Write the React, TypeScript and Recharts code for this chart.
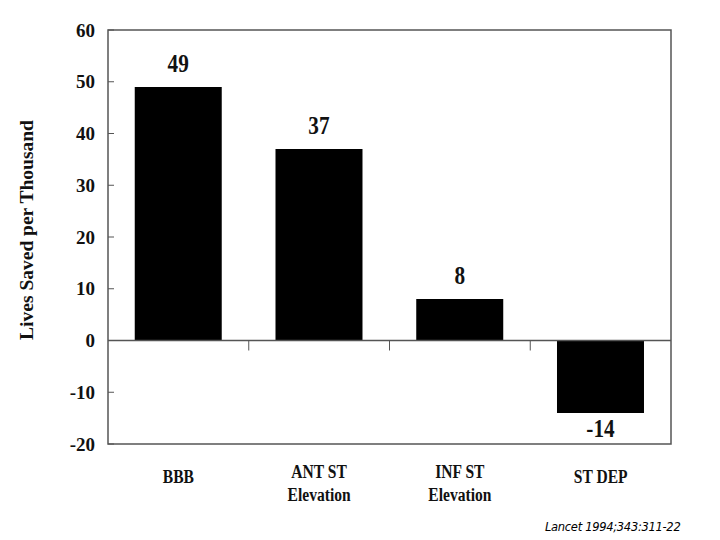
import { BarChart, Bar, XAxis, YAxis, ReferenceLine, ReferenceArea, LabelList } from 'recharts';

const categories = ['BBB', 'ANT ST\nElevation', 'INF ST\nElevation', 'ST DEP'];
const livesSaved = [49, 37, 8, -14];
const yTicks = [-20, -10, 0, 10, 20, 30, 40, 50, 60];

const data = categories.map((name, i) => ({ name, value: livesSaved[i] }));

const serif = '"Liberation Serif", "Times New Roman", serif';
const frameColor = '#555';

const CategoryTick = (props: any) => {
  const { x, y, payload } = props;
  const lines = String(payload.value).split('\n');
  const start = lines.length === 1 ? 31 : 26;
  return (
    <g>
      {lines.map((line, i) => (
        <text
          key={i}
          transform={`translate(${x},${y + start + i * 23}) scale(0.82,1)`}
          textAnchor="middle"
          fontFamily={serif}
          fontWeight="bold"
          fontSize={19}
          fill="#111"
        >
          {line}
        </text>
      ))}
    </g>
  );
};

const ValueLabel = (props: any) => {
  const { x, y, width, height, value } = props;
  const top = Math.min(y, y + height);
  const bottom = Math.max(y, y + height);
  const cx = x + width / 2;
  const ty = value >= 0 ? top - 15 : bottom + 24;
  return (
    <text
      transform={`translate(${cx},${ty}) scale(0.85,1)`}
      textAnchor="middle"
      fontFamily={serif}
      fontWeight="bold"
      fontSize={25}
      fill="#111"
    >
      {value}
    </text>
  );
};

// zero line with short ticks between the categories
const ZeroLine = (props: any) => {
  const { x1, y1, x2, y2 } = props;
  const step = (x2 - x1) / categories.length;
  return (
    <g>
      <line x1={x1} y1={y1} x2={x2} y2={y2} stroke={frameColor} strokeWidth={1.5} />
      {categories.slice(1).map((_, i) => (
        <line
          key={i}
          x1={x1 + step * (i + 1)}
          x2={x1 + step * (i + 1)}
          y1={y1}
          y2={y1 + 10}
          stroke={frameColor}
          strokeWidth={1}
        />
      ))}
    </g>
  );
};

const YLabel = (props: any) => {
  const { viewBox } = props;
  const x = viewBox.x - 22;
  const y = viewBox.y + viewBox.height / 2 - 7;
  return (
    <text
      transform={`translate(${x},${y}) rotate(-90)`}
      textAnchor="middle"
      dominantBaseline="central"
      fontFamily={serif}
      fontWeight="bold"
      fontSize={19.5}
      fill="#111"
    >
      Lives Saved per Thousand
    </text>
  );
};

export default function App() {
  return (
    <div style={{ position: 'absolute', left: 0, top: 0, width: 720, height: 540, background: '#fff' }}>
      <BarChart
        width={720}
        height={540}
        data={data}
        margin={{ top: 30, right: 49, bottom: 36, left: 48 }}
        barCategoryGap="19%"
      >
        <XAxis
          dataKey="name"
          height={60}
          axisLine={false}
          tickLine={false}
          tick={<CategoryTick />}
          interval={0}
        />
        <YAxis
          width={60}
          domain={[-20, 60]}
          ticks={yTicks}
          interval={0}
          axisLine={false}
          tickSize={-6}
          tickMargin={19}
          tickLine={{ stroke: frameColor, strokeWidth: 1 }}
          tick={{ fontFamily: serif, fontWeight: 'bold', fontSize: 19, fill: '#111' }}
          label={<YLabel />}
        />
        <ReferenceArea y1={-20} y2={60} fill="none" stroke={frameColor} strokeWidth={1.5} />
        <Bar dataKey="value" fill="#000" isAnimationActive={false}>
          <LabelList dataKey="value" content={<ValueLabel />} />
        </Bar>
        <ReferenceLine y={0} shape={<ZeroLine />} />
      </BarChart>
      <div
        style={{
          position: 'absolute',
          left: 545,
          top: 520,
          fontFamily: '"DejaVu Sans", Verdana, sans-serif',
          fontStyle: 'italic',
          fontSize: 11.5,
          letterSpacing: -0.3,
          color: '#000',
          whiteSpace: 'nowrap',
        }}
      >
        Lancet 1994;343:311-22
      </div>
    </div>
  );
}
